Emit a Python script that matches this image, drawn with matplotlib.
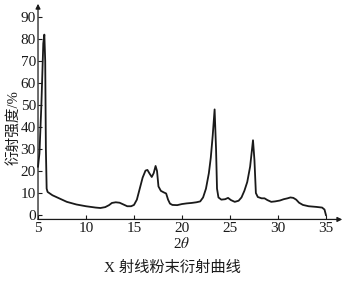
import matplotlib.pyplot as plt

plt.rcParams['font.family'] = ['Liberation Serif', 'Noto Sans CJK SC']
plt.rcParams['mathtext.fontset'] = 'stix'

# 读取的曲线点 (2θ, 强度%)
two_theta = [5.0, 5.15, 5.35, 5.55, 5.66, 5.75, 5.82, 5.9, 6.0, 6.5, 7.0, 7.5, 8.0,
             9.0, 10.0, 11.0, 11.5, 12.0, 12.4, 12.7, 13.1, 13.5, 13.9, 14.3, 14.7,
             15.0, 15.3, 15.6, 15.9, 16.2, 16.4, 16.6, 16.85, 17.05, 17.25, 17.4,
             17.55, 17.8, 18.1, 18.35, 18.55, 18.75, 19.0, 19.5, 20.0, 20.5, 21.0,
             21.5, 21.9, 22.2, 22.5, 22.8, 23.0, 23.2, 23.4, 23.55, 23.65, 23.8,
             24.1, 24.5, 24.8, 25.1, 25.5, 25.9, 26.2, 26.5, 26.8, 27.1, 27.4,
             27.55, 27.7, 27.9, 28.3, 28.6, 28.9, 29.3, 29.7, 30.2, 30.6, 31.0,
             31.3, 31.6, 31.9, 32.2, 32.6, 33.2, 34.0, 34.6, 34.85, 35.0]
intensity = [22, 28, 50, 78, 82, 70, 30, 12, 10.5, 9, 8, 7, 6,
             4.8, 4, 3.4, 3.2, 3.6, 4.5, 5.5, 5.8, 5.6, 4.8, 4.0, 4.0,
             4.6, 7, 12, 17, 20.2, 20.5, 19, 17.3, 19, 22.3, 20,
             13, 11, 10.3, 9.8, 7, 5.2, 4.6, 4.5, 5.0, 5.3, 5.5,
             5.8, 6.2, 8, 12, 19, 26, 36, 48, 30, 12, 8,
             7, 7.2, 7.8, 6.8, 6.0, 6.5, 8, 11, 15, 22, 34,
             25, 10, 8.2, 7.6, 7.6, 6.8, 6.0, 6.2, 6.6, 7.2,
             7.6, 8.0, 7.8, 7.0, 5.6, 4.6, 4.0, 3.7, 3.4, 2.5, 0]

x_ticks = [5, 10, 15, 20, 25, 30, 35]
y_ticks = [0, 10, 20, 30, 40, 50, 60, 70, 80, 90]

fig = plt.figure(figsize=(3.44, 2.85), dpi=100)
ax = fig.add_axes([0.1105, 0.230, 0.837, 0.749])

ax.plot(two_theta, intensity, color='#1a1a1a', lw=1.3, clip_on=False)

ax.set_xlim(5, 35)
ax.set_ylim(-2, 95)
for s in ax.spines.values():
    s.set_visible(False)

# 带箭头的坐标轴
ax.annotate('', xy=(36.7, -2), xytext=(5, -2), xycoords='data',
            arrowprops=dict(arrowstyle='-|>', color='#1a1a1a', lw=0.9,
                            mutation_scale=7, shrinkA=0, shrinkB=0),
            annotation_clip=False)
ax.annotate('', xy=(5, 96), xytext=(5, -2), xycoords='data',
            arrowprops=dict(arrowstyle='-|>', color='#1a1a1a', lw=0.9,
                            mutation_scale=7, shrinkA=0, shrinkB=0),
            annotation_clip=False)

ax.set_xticks(x_ticks)
ax.set_yticks(y_ticks)
ax.tick_params(direction='in', length=3, width=0.8, color='#1a1a1a',
               labelsize=11, labelcolor='#1a1a1a', pad=1.5)

ax.set_xlabel('2$\\theta$', fontsize=11, labelpad=1, color='#1a1a1a')
ax.set_ylabel('衍射强度/%', fontsize=10.5, color='#1a1a1a')
ax.yaxis.set_label_coords(-0.06, 0.43)

fig.text(0.5, 0.06, 'X 射线粉末衍射曲线', ha='center', va='center',
         fontsize=11, color='#1a1a1a')

fig.savefig('out.png', dpi=100)
